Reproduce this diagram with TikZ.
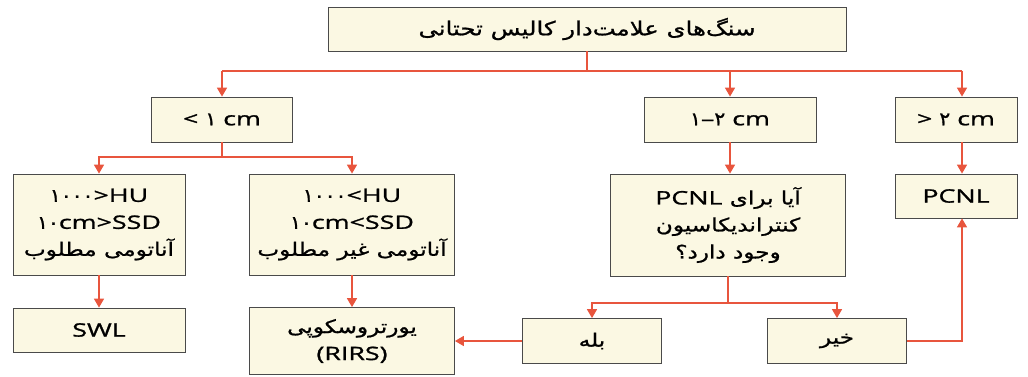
\documentclass[tikz,border=0pt]{standalone}
\usepackage{fontspec}
\setmainfont{Open Sans}[FakeStretch=1.45,FakeBold=1.2]
\newfontfamily\arabicfont[Script=Arabic,FakeStretch=1.25,FakeBold=1]{DejaVu Sans}
\newfontfamily\digitfont[FakeStretch=1.1,FakeBold=1]{DejaVu Sans}
\TeXXeTstate=1
\usetikzlibrary{arrows.meta}

\definecolor{boxfill}{HTML}{FBF8E3}
\definecolor{boxline}{HTML}{4A4A4A}
\definecolor{flow}{HTML}{E8553D}

\newcommand\fa[1]{{\arabicfont\beginR #1\endR}}
\newcommand\fanum[1]{{\digitfont #1}}
\newcommand\latn[1]{\beginL{\normalfont #1}\endL}

\begin{document}
\begin{tikzpicture}[x=1pt,y=-1pt,
		box/.style={draw=boxline,line width=0.8pt,fill=boxfill,align=center,inner sep=0pt,
			font=\fontsize{18.5}{27}\selectfont},
		link/.style={draw=flow,line width=1.6pt},
		arr/.style={link,-{Triangle[width=10pt,length=9pt]}}]
		\useasboundingbox (0,0) rectangle (1028,377);

		\node[box,minimum width=518pt,minimum height=44pt,font=\fontsize{19.5}{27}\selectfont]
			(stones) at (587,29) {\fa{سنگ‌های علامت‌دار کالیس تحتانی}};

		\node[box,minimum width=141pt,minimum height=45pt] (small) at (222,119.5)
			{< \fanum{۱} cm};
		\node[box,minimum width=172pt,minimum height=45pt] (middle) at (730,119.5)
			{\fanum{۱}–\fanum{۲} cm};
		\node[box,minimum width=122pt,minimum height=45pt] (large) at (956,119.5)
			{> \fanum{۲} cm};

		\node[box,minimum width=172pt,minimum height=101pt] (good) at (99,224.5)
			{\fanum{۱۰۰۰}>HU\\\fanum{۱۰}cm>SSD\\\fa{آناتومی مطلوب}};
		\node[box,minimum width=205pt,minimum height=101pt] (poor) at (352,224.5)
			{\fanum{۱۰۰۰}<HU\\\fanum{۱۰}cm<SSD\\\fa{آناتومی غیر مطلوب}};
		\node[box,minimum width=235pt,minimum height=102pt] (contra) at (728,225)
			{\fa{آیا برای \latn{PCNL}}\\\fa{کنتراندیکاسیون}\\\fa{وجود دارد؟}};
		\node[box,minimum width=122pt,minimum height=44pt] (pcnl) at (956,196) {PCNL};

		\node[box,minimum width=172pt,minimum height=44pt] (swl) at (99,330) {SWL};
		\node[box,minimum width=205pt,minimum height=67pt] (rirs) at (352,341)
			{\fa{یورتروسکوپی}\\(RIRS)};
		\node[box,minimum width=139pt,minimum height=45pt] (yes) at (592,341) {\fa{بله}};
		\node[box,minimum width=139pt,minimum height=45pt] (no) at (837,341) {\fa{خیر}};

		%%% BRANCHES
		\coordinate (busL) at (222,71);
		\coordinate (busR) at (962,71);
		\coordinate (split) at (222,157);
		\coordinate (qsplit) at (728,303);

		\draw[link] (stones.south) -- (stones.south |- busL);
		\draw[link] (busL) -- (busR);
		\draw[arr] (busL) -- (small.north);
		\draw[arr] (middle.north |- busL) -- (middle.north);
		\draw[arr] (busR) -- (busR |- large.north);

		\draw[link] (small.south) -- (split);
		\draw[arr] (split) -| (good.north);
		\draw[arr] (split) -| (poor.north);
		\draw[arr] (middle.south) -- (middle.south |- contra.north);
		\draw[arr] (busR |- large.south) -- (busR |- pcnl.north);

		\draw[arr] (good.south) -- (swl.north);
		\draw[arr] (poor.south) -- (rirs.north);
		\draw[link] (contra.south) -- (qsplit);
		\draw[arr] (qsplit) -| (yes.north);
		\draw[arr] (qsplit) -| (no.north);

		%%% OUTCOMES
		\draw[arr] (yes.west) -- (rirs.east);
		\draw[arr] (no.east) -| (busR |- pcnl.south);
	\end{tikzpicture}
\end{document}
